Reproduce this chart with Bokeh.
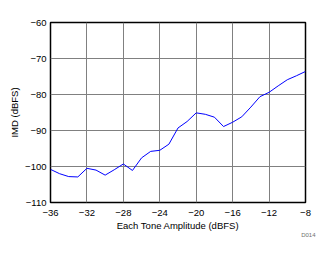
from bokeh.plotting import figure
from bokeh.models import FixedTicker, Range1d, Title
from bokeh.embed import file_html
from bokeh.resources import INLINE

amplitude = [-36, -35, -34, -33, -32, -31, -30, -29, -28, -27, -26, -25, -24, -23,
             -22, -21, -20, -19, -18, -17, -16, -15, -14, -13, -12, -11, -10, -9, -8]
imd = [-100.8, -102.0, -102.8, -102.9, -100.5, -101.0, -102.4, -100.9, -99.3, -101.1,
       -97.6, -95.8, -95.5, -93.8, -89.3, -87.5, -85.1, -85.5, -86.3, -88.9,
       -87.7, -86.2, -83.5, -80.6, -79.4, -77.6, -75.9, -74.8, -73.6]
x_ticks = [-36, -32, -28, -24, -20, -16, -12, -8]
y_ticks = [-110, -100, -90, -80, -70, -60]

FONT = "Liberation Sans"

p = figure(width=334, height=254, output_backend="svg", toolbar_location=None,
           x_range=Range1d(-36, -8), y_range=Range1d(-110, -60),
           min_border_left=50, min_border_right=29, min_border_top=22, min_border_bottom=52)
p.background_fill_color = "white"
p.border_fill_color = "white"
p.outline_line_color = "black"
p.outline_line_width = 1.5

p.line(amplitude, imd, line_color="#0000FF", line_width=1)

for ax in (p.xaxis[0], p.yaxis[0]):
    ax.major_tick_in = 0
    ax.major_tick_out = 0
    ax.minor_tick_in = 0
    ax.minor_tick_out = 0
    ax.axis_line_color = None
    ax.major_label_text_font = FONT
    ax.major_label_text_font_size = "9.5px"
    ax.major_label_text_color = "black"
    ax.axis_label_text_font = FONT
    ax.axis_label_text_font_size = "9.5px"
    ax.axis_label_text_font_style = "normal"
    ax.axis_label_text_color = "black"

p.xaxis.ticker = FixedTicker(ticks=x_ticks)
p.yaxis.ticker = FixedTicker(ticks=y_ticks)
p.xaxis.axis_label = "Each Tone Amplitude (dBFS)"
p.yaxis.axis_label = "IMD (dBFS)"
p.xaxis.major_label_standoff = 7
p.yaxis.major_label_standoff = 4
p.xaxis.axis_label_standoff = 1
p.yaxis.axis_label_standoff = 2

p.xgrid.ticker = FixedTicker(ticks=x_ticks)
p.ygrid.ticker = FixedTicker(ticks=y_ticks)
p.grid.grid_line_color = "#808080"
p.grid.grid_line_width = 1

p.add_layout(Title(text="D014", align="right", offset=-10, standoff=-7,
                   text_font=FONT, text_font_size="6px", text_font_style="normal",
                   text_color="#707070"), "below")

open("out.html", "w").write(file_html(p, INLINE))
